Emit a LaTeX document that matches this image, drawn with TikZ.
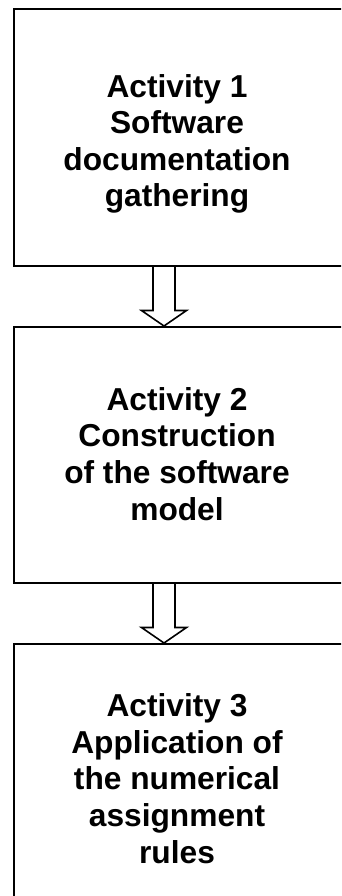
\documentclass[tikz,border=0pt]{standalone}
\usepackage{fontspec}
\setmainfont{Liberation Sans}
\usetikzlibrary{calc}
\begin{document}
\begin{tikzpicture}[x=1pt,y=1pt,
  stagebox/.style={draw=black, line width=2pt, rectangle, minimum width=336pt, inner sep=0pt},
  stagetext/.style={align=center, anchor=base, inner sep=0pt,
    font=\bfseries\fontsize{31.7}{36.6}\selectfont},
  blockarrow/.style={draw=black, fill=white, line width=1.6pt, line join=miter}]
  \useasboundingbox (0,0) rectangle (341,-896);
  \clip (0,0) rectangle (341,-896);

  % the three activity frames (they run past the right edge)
  \node[stagebox, minimum height=257pt] (b1) at (182,-137.5) {};
  \node[stagebox, minimum height=256pt] (b2) at (182,-455) {};
  \node[stagebox, minimum height=266pt] (b3) at (182,-777) {};

  % labels, placed by the baseline of their last line
  \node[stagetext] (t1) at (177,-207) {Activity 1\\Software\\documentation\\gathering};
  \node[stagetext] (t2) at (177,-520) {Activity 2\\Construction\\of the software\\model};
  \node[stagetext] (t3) at (177,-863) {Activity 3\\Application of\\the numerical\\assignment\\rules};

  % hollow block arrows between the frames
  \foreach \src/\dst in {b1/b2, b2/b3} {
    \draw[blockarrow]
      let \p1=($(\src.south west)+(151,0)$), \p2=($(\dst.north west)+(151,0)$) in
      (\x1-11pt,\y1) -- (\x1-11pt,\y2+15.5pt) -- (\x1-22.5pt,\y2+15.5pt) -- (\x2,\y2)
      -- (\x1+22.5pt,\y2+15.5pt) -- (\x1+11pt,\y2+15.5pt) -- (\x1+11pt,\y1);
  }
\end{tikzpicture}
\end{document}
